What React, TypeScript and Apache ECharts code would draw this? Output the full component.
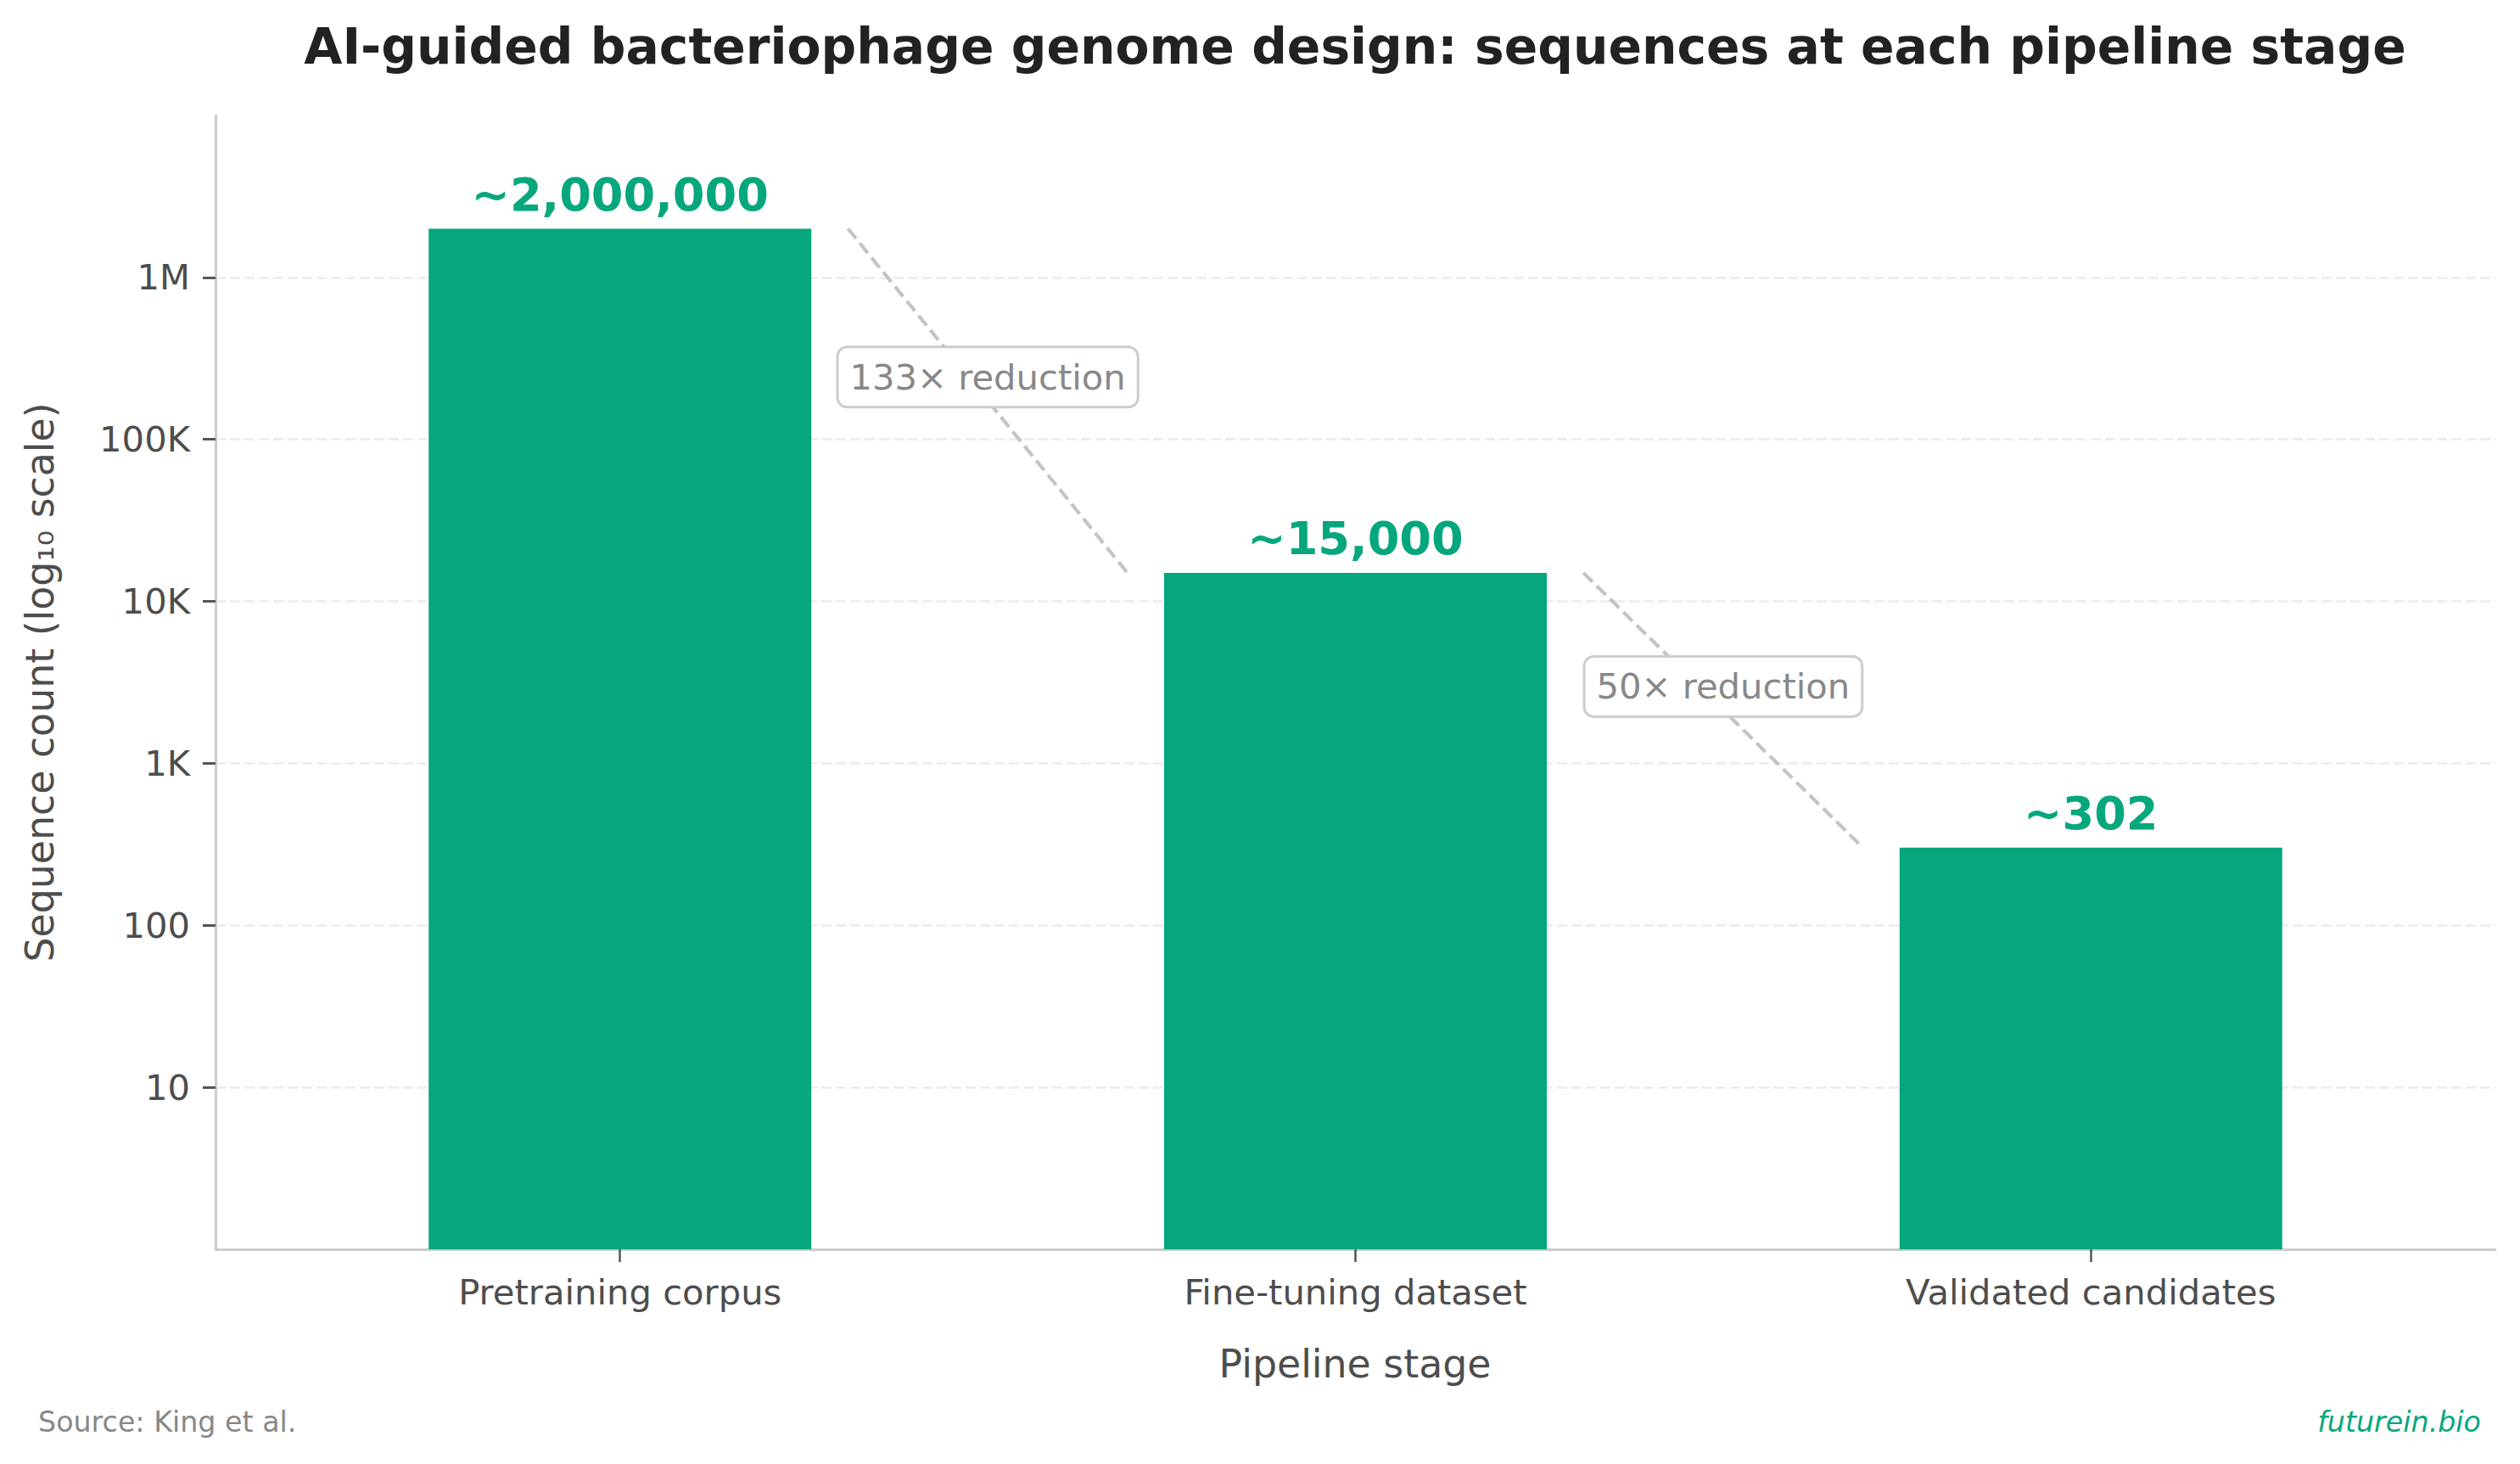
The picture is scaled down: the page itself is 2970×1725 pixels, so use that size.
import React, { useEffect, useRef } from "react";
import * as echarts from "echarts";

const categories = ["Pretraining corpus", "Fine-tuning dataset", "Validated candidates"];
const sequenceCounts = [2000000, 15000, 302];
const xTickValues = [0, 1, 2];
const yTickValues = [10, 100, 1000, 10000, 100000, 1000000];
const yTickLabels = ["10", "100", "1K", "10K", "100K", "1M"];

const GREEN = "#06A77D";
const FONT = "DejaVu Sans";

export default function App() {
  const ref = useRef<HTMLDivElement>(null);

  useEffect(() => {
    document.body.style.margin = "0";
    if (!ref.current) return;
    const chart = echarts.init(ref.current, undefined, { renderer: "svg" });

    const connectors: any[] = [];
    const notes: any[] = [];
    for (let i = 0; i < sequenceCounts.length - 1; i++) {
      const a = sequenceCounts[i];
      const b = sequenceCounts[i + 1];
      connectors.push({
        type: "line",
        data: [
          [i + 0.31, a],
          [i + 0.69, b],
        ],
        showSymbol: false,
        symbol: "none",
        silent: true,
        z: 3,
        lineStyle: { color: "#c4c4c4", width: 4.2, type: [15, 7], opacity: 1 },
      });
      notes.push([i + 0.5, Math.sqrt(a * b) * 1.4, Math.round(a / b) + "× reduction"]);
    }

    const option: any = {
      animation: false,
      backgroundColor: "#ffffff",
      textStyle: { fontFamily: FONT },
      grid: { left: 254, right: 29, top: 136, bottom: 253, containLabel: false, outerBoundsMode: "none" },
      xAxis: {
        type: "value",
        min: -0.55,
        max: 2.55,
        axisLine: { show: true, onZero: false, lineStyle: { color: "#cccccc", width: 3 } },
        axisTick: { show: true, customValues: xTickValues, length: 15, lineStyle: { color: "#555555", width: 2.5 } },
        axisLabel: {
          show: true,
          customValues: xTickValues,
          formatter: (v: number) => categories[Math.round(v)] ?? "",
          margin: 29,
          fontSize: 41.7,
          color: "#4d4d4d",
          fontFamily: FONT,
        },
        splitLine: { show: false },
      },
      yAxis: {
        type: "log",
        logBase: 10,
        min: 1,
        max: 10000000,
        axisLine: { show: true, onZero: false, lineStyle: { color: "#cccccc", width: 3 } },
        axisTick: { show: true, customValues: yTickValues, length: 15, lineStyle: { color: "#555555", width: 3 } },
        axisLabel: {
          show: true,
          customValues: yTickValues,
          formatter: (v: number) => {
            const idx = yTickValues.findIndex((t) => Math.abs(Math.log10(t) - Math.log10(v)) < 1e-6);
            return idx >= 0 ? yTickLabels[idx] : "";
          },
          margin: 30,
          fontSize: 41.7,
          color: "#4d4d4d",
          fontFamily: FONT,
        },
        splitLine: {
          show: true,
          lineStyle: { color: "#ebebeb", width: 2.5, type: [12, 5] },
        },
      },
      series: [
        {
          type: "bar",
          data: sequenceCounts.map((v, i) => [i, v]),
          barWidth: 451,
          itemStyle: { color: GREEN },
          z: 2,
          label: {
            show: true,
            position: "top",
            distance: 13,
            formatter: (p: any) => "~" + Number(p.value[1]).toLocaleString("en-US"),
            color: GREEN,
            fontWeight: "bold",
            fontSize: 54.2,
            fontFamily: FONT,
          },
        },
        ...connectors,
        {
          type: "scatter",
          data: notes,
          symbol: "rect",
          symbolSize: 1,
          itemStyle: { color: "#ffffff", opacity: 1 },
          silent: true,
          z: 5,
          label: {
            show: true,
            position: "inside",
            formatter: (p: any) => p.value[2],
            color: "#888888",
            opacity: 1,
            fontSize: 41.7,
            fontFamily: FONT,
            lineHeight: 48,
            textBorderWidth: 0,
            backgroundColor: "#ffffff",
            borderColor: "#cccccc",
            borderWidth: 3,
            borderRadius: 10,
            padding: [10, 13],
          },
        },
      ],
      graphic: [
        {
          type: "text",
          x: 1597,
          y: 55,
          style: {
            text: "AI-guided bacteriophage genome design: sequences at each pipeline stage",
            fill: "#222222",
            font: `bold 58.3px "${FONT}"`,
            textAlign: "center",
            textVerticalAlign: "middle",
          },
        },
        {
          type: "text",
          x: 1597,
          y: 1607,
          style: {
            text: "Pipeline stage",
            fill: "#4d4d4d",
            font: `45.8px "${FONT}"`,
            textAlign: "center",
            textVerticalAlign: "middle",
          },
        },
        {
          type: "text",
          x: 47,
          y: 804,
          rotation: Math.PI / 2,
          style: {
            text: "Sequence count (log₁₀ scale)",
            fill: "#4d4d4d",
            font: `45.8px "${FONT}"`,
            textAlign: "center",
            textVerticalAlign: "middle",
          },
        },
        {
          type: "text",
          x: 45,
          y: 1675,
          style: {
            text: "Source: King et al.",
            fill: "#888888",
            font: `33.3px "${FONT}"`,
            textAlign: "left",
            textVerticalAlign: "middle",
          },
        },
        {
          type: "text",
          x: 2924,
          y: 1675,
          style: {
            text: "futurein.bio",
            fill: GREEN,
            font: `italic 33.3px "${FONT}"`,
            textAlign: "right",
            textVerticalAlign: "middle",
          },
        },
      ],
    };

    chart.setOption(option);
    return () => chart.dispose();
  }, []);

  return <div ref={ref} style={{ width: 2970, height: 1725 }} />;
}
